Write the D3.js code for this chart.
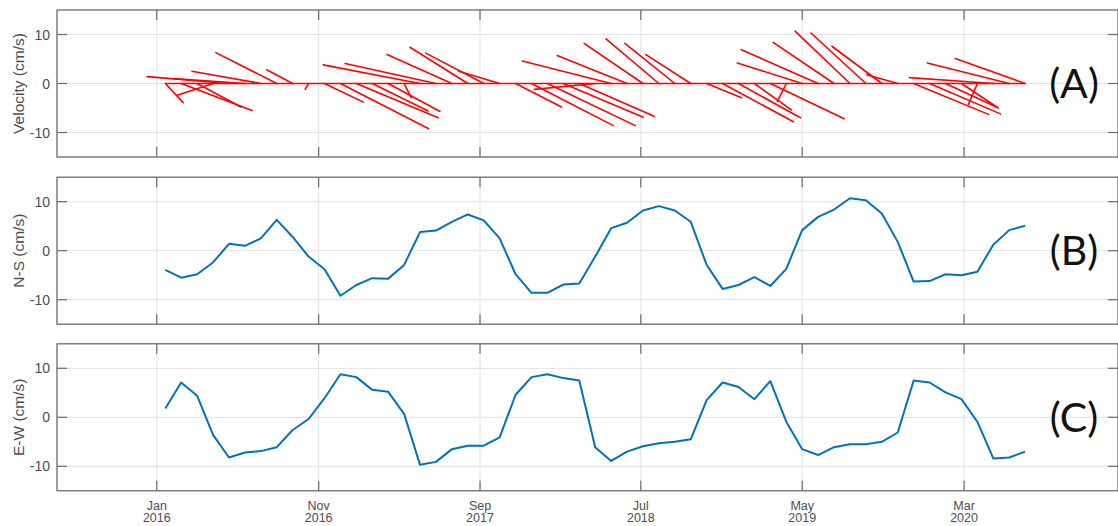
<!DOCTYPE html>
<html>
<head>
<meta charset="utf-8">
<script src="https://cdn.jsdelivr.net/npm/d3@7"></script>
<style>
  html, body { margin: 0; padding: 0; background: #fff; }
  svg { display: block; }
  .tick-label { font-family: "Liberation Sans", Arial, Helvetica, sans-serif; font-size: 14px; fill: #4d4d4d; }
  .xtick-label { font-family: "Liberation Sans", Arial, Helvetica, sans-serif; font-size: 12.5px; fill: #4d4d4d; }
  .axis-title { font-family: "Liberation Sans", Arial, Helvetica, sans-serif; font-size: 15.5px; fill: #4d4d4d; }
  .panel-tag { font-family: Lato, "Open Sans", sans-serif; font-size: 41px; fill: #111; }
</style>
</head>
<body>
<script>
// Current samples: one every 30 days starting mid-January 2016
const sampleStart = "2016-01-17";
const sampleStepDays = 30;

// North-south component (cm/s)
const northSouth = [
  -3.9, -5.5, -4.8, -2.4, 1.4, 1.0, 2.5, 6.3, 2.8, -1.2,
  -3.8, -9.2, -7.0, -5.6, -5.7, -2.9, 3.8, 4.1, 5.9, 7.4,
  6.2, 2.5, -4.8, -8.6, -8.6, -6.9, -6.7, -1.2, 4.6, 5.7,
  8.2, 9.1, 8.2, 5.9, -2.9, -7.8, -7.0, -5.4, -7.2, -3.7,
  4.2, 6.9, 8.4, 10.7, 10.3, 7.6, 1.8, -6.3, -6.2, -4.8,
  -5.0, -4.3, 1.2, 4.2, 5.1
];

// East-west component (cm/s)
const eastWest = [
  1.8, 7.1, 4.4, -3.6, -8.2, -7.2, -6.9, -6.1, -2.6, -0.35,
  3.9, 8.8, 8.2, 5.6, 5.2, 0.7, -9.7, -9.1, -6.5, -5.8,
  -5.8, -4.1, 4.6, 8.2, 8.8, 8.0, 7.5, -6.1, -8.9, -7.0,
  -5.9, -5.3, -5.0, -4.5, 3.5, 7.1, 6.2, 3.7, 7.4, -0.9,
  -6.5, -7.7, -6.1, -5.5, -5.5, -5.0, -3.1, 7.5, 7.1, 5.1,
  3.7, -0.9, -8.4, -8.2, -7.0
];

const xTickDates = ["2016-01-01", "2016-11-01", "2017-09-01", "2018-07-01", "2019-05-01", "2020-03-01"];
const yTickValues = [-10, 0, 10];
const yLabels = ["Velocity (cm/s)", "N-S (cm/s)", "E-W (cm/s)"];
const panelTags = ["(A)", "(B)", "(C)"];

// ---- layout ----
const W = 1118, H = 526;
const left = 57, right = 1118;
const panelTops = [10, 177.2, 343.8];
const panelH = 147;
const tickLen = 10;
const stickDaysPerUnit = 18.8; // horizontal stretch of the east-west stick component

const parseDay = d3.utcParse("%Y-%m-%d");
const start = parseDay(sampleStart);
const dates = northSouth.map((_, i) => d3.utcDay.offset(start, i * sampleStepDays));

const x = d3.scaleUtc()
  .domain([parseDay("2015-06-27"), parseDay("2020-12-16")])
  .range([left, right]);

const svg = d3.select("body").append("svg")
  .attr("width", W).attr("height", H);

const gridColor = "#e2e2e2";
const boxColor = "#6a6a6a";

function drawPanel(idx) {
  const top = panelTops[idx];
  const y = d3.scaleLinear().domain([-15, 15]).range([top + panelH, top]);
  const g = svg.append("g");

  // grid
  g.selectAll("line.vgrid").data(xTickDates).join("line")
    .attr("x1", d => x(parseDay(d))).attr("x2", d => x(parseDay(d)))
    .attr("y1", top).attr("y2", top + panelH)
    .attr("stroke", gridColor).attr("stroke-width", 1);
  g.selectAll("line.hgrid").data(yTickValues).join("line")
    .attr("x1", left).attr("x2", right)
    .attr("y1", d => y(d)).attr("y2", d => y(d))
    .attr("stroke", gridColor).attr("stroke-width", 1);

  // ticks (inward, all four sides)
  const tickG = g.append("g").attr("stroke", boxColor).attr("stroke-width", 1.2);
  xTickDates.forEach(d => {
    const xx = x(parseDay(d));
    tickG.append("line").attr("x1", xx).attr("x2", xx).attr("y1", top).attr("y2", top + tickLen);
    tickG.append("line").attr("x1", xx).attr("x2", xx).attr("y1", top + panelH).attr("y2", top + panelH - tickLen);
  });
  yTickValues.forEach(v => {
    tickG.append("line").attr("x1", left).attr("x2", left + tickLen).attr("y1", y(v)).attr("y2", y(v));
    tickG.append("line").attr("x1", right).attr("x2", right - tickLen).attr("y1", y(v)).attr("y2", y(v));
  });

  // y tick labels
  g.selectAll("text.ytl").data(yTickValues).join("text")
    .attr("class", "tick-label")
    .attr("x", left - 7).attr("y", d => y(d))
    .attr("dy", "0.36em")
    .attr("text-anchor", "end")
    .text(d => d);

  // y axis title
  g.append("text")
    .attr("class", "axis-title")
    .attr("transform", `translate(24,${top + panelH / 2}) rotate(-90)`)
    .attr("text-anchor", "middle")
    .text(yLabels[idx]);

  // data
  if (idx === 0) {
    // zero line joining the stick origins
    g.append("line")
      .attr("x1", x(dates[0])).attr("x2", x(dates[dates.length - 1]))
      .attr("y1", y(0)).attr("y2", y(0))
      .attr("stroke", "#ff0000").attr("stroke-width", 1.6);
    // current sticks: origin on the zero line, tip at (east, north)
    g.selectAll("line.stick").data(dates).join("line")
      .attr("x1", d => x(d))
      .attr("y1", y(0))
      .attr("x2", (d, i) => x(d3.utcHour.offset(d, Math.round(eastWest[i] * stickDaysPerUnit * 24))))
      .attr("y2", (d, i) => y(northSouth[i]))
      .attr("stroke", "#ff0000").attr("stroke-width", 1.6)
      .attr("stroke-linecap", "round");
  } else {
    const values = idx === 1 ? northSouth : eastWest;
    const line = d3.line().x((d, i) => x(dates[i])).y(d => y(d));
    g.append("path")
      .datum(values)
      .attr("d", line)
      .attr("fill", "none")
      .attr("stroke", "#0072BD")
      .attr("stroke-width", 2)
      .attr("stroke-linejoin", "round");
  }

  // box
  g.append("rect")
    .attr("x", left).attr("y", top)
    .attr("width", right - left).attr("height", panelH)
    .attr("fill", "none").attr("stroke", boxColor).attr("stroke-width", 1.3);

  // panel tag
  g.append("text")
    .attr("class", "panel-tag")
    .attr("x", 1074).attr("y", y(0) + 14.5)
    .attr("text-anchor", "middle")
    .text(panelTags[idx]);

  // x tick labels on the bottom panel only: month above year
  if (idx === 2) {
    const fmtMon = d3.utcFormat("%b"), fmtYear = d3.utcFormat("%Y");
    const lab = g.selectAll("g.xtl").data(xTickDates).join("g")
      .attr("transform", d => `translate(${x(parseDay(d))},0)`);
    lab.append("text").attr("class", "xtick-label")
      .attr("text-anchor", "middle").attr("y", top + panelH + 19)
      .text(d => fmtMon(parseDay(d)));
    lab.append("text").attr("class", "xtick-label")
      .attr("text-anchor", "middle").attr("y", top + panelH + 31.5)
      .text(d => fmtYear(parseDay(d)));
  }
}

[0, 1, 2].forEach(drawPanel);
</script>
</body>
</html>
